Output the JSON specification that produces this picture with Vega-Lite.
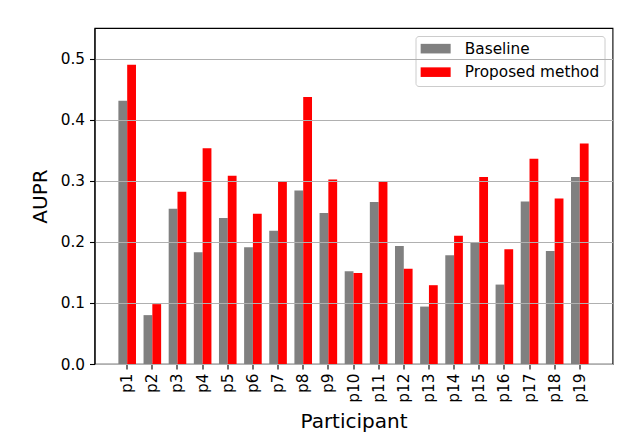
{
  "$schema": "https://vega.github.io/schema/vega-lite/v6.json",
  "width": 518,
  "height": 336,
  "autosize": {"type": "none"},
  "padding": {"left": 94.5, "top": 28, "right": 18.5, "bottom": 83},
  "background": "white",
  "config": {
    "font": "DejaVu Sans",
    "view": {"stroke": "black", "strokeWidth": 1.1},
    "axis": {
      "domainColor": "black",
      "domainWidth": 1.1,
      "tickColor": "black",
      "tickWidth": 1.1,
      "tickSize": 5,
      "labelFont": "DejaVu Sans",
      "labelFontSize": 15.3,
      "labelColor": "black",
      "titleFont": "DejaVu Sans",
      "titleFontSize": 20,
      "titleFontWeight": "normal",
      "titleColor": "black"
    }
  },
  "data": {
    "values": [
      {"participant": "p1", "method": "Baseline", "aupr": 0.431},
      {"participant": "p1", "method": "Proposed method", "aupr": 0.490},
      {"participant": "p2", "method": "Baseline", "aupr": 0.080},
      {"participant": "p2", "method": "Proposed method", "aupr": 0.098},
      {"participant": "p3", "method": "Baseline", "aupr": 0.254},
      {"participant": "p3", "method": "Proposed method", "aupr": 0.282},
      {"participant": "p4", "method": "Baseline", "aupr": 0.183},
      {"participant": "p4", "method": "Proposed method", "aupr": 0.353},
      {"participant": "p5", "method": "Baseline", "aupr": 0.239},
      {"participant": "p5", "method": "Proposed method", "aupr": 0.308},
      {"participant": "p6", "method": "Baseline", "aupr": 0.191},
      {"participant": "p6", "method": "Proposed method", "aupr": 0.246},
      {"participant": "p7", "method": "Baseline", "aupr": 0.218},
      {"participant": "p7", "method": "Proposed method", "aupr": 0.298},
      {"participant": "p8", "method": "Baseline", "aupr": 0.284},
      {"participant": "p8", "method": "Proposed method", "aupr": 0.437},
      {"participant": "p9", "method": "Baseline", "aupr": 0.247},
      {"participant": "p9", "method": "Proposed method", "aupr": 0.302},
      {"participant": "p10", "method": "Baseline", "aupr": 0.152},
      {"participant": "p10", "method": "Proposed method", "aupr": 0.149},
      {"participant": "p11", "method": "Baseline", "aupr": 0.265},
      {"participant": "p11", "method": "Proposed method", "aupr": 0.298},
      {"participant": "p12", "method": "Baseline", "aupr": 0.193},
      {"participant": "p12", "method": "Proposed method", "aupr": 0.156},
      {"participant": "p13", "method": "Baseline", "aupr": 0.094},
      {"participant": "p13", "method": "Proposed method", "aupr": 0.129},
      {"participant": "p14", "method": "Baseline", "aupr": 0.178},
      {"participant": "p14", "method": "Proposed method", "aupr": 0.210},
      {"participant": "p15", "method": "Baseline", "aupr": 0.199},
      {"participant": "p15", "method": "Proposed method", "aupr": 0.306},
      {"participant": "p16", "method": "Baseline", "aupr": 0.130},
      {"participant": "p16", "method": "Proposed method", "aupr": 0.188},
      {"participant": "p17", "method": "Baseline", "aupr": 0.266},
      {"participant": "p17", "method": "Proposed method", "aupr": 0.336},
      {"participant": "p18", "method": "Baseline", "aupr": 0.185},
      {"participant": "p18", "method": "Proposed method", "aupr": 0.271},
      {"participant": "p19", "method": "Baseline", "aupr": 0.306},
      {"participant": "p19", "method": "Proposed method", "aupr": 0.361}
    ]
  },
  "mark": {"type": "bar"},
  "encoding": {
    "x": {
      "field": "participant",
      "type": "nominal",
      "sort": ["p1","p2","p3","p4","p5","p6","p7","p8","p9","p10","p11","p12","p13","p14","p15","p16","p17","p18","p19"],
      "scale": {"paddingInner": 0.3, "paddingOuter": 0.95},
      "axis": {"title": "Participant", "labelAngle": -90, "labelPadding": 4, "titlePadding": 9, "grid": false}
    },
    "xOffset": {
      "field": "method",
      "type": "nominal",
      "sort": ["Baseline", "Proposed method"],
      "scale": {"paddingInner": 0, "paddingOuter": 0}
    },
    "y": {
      "field": "aupr",
      "type": "quantitative",
      "scale": {"domain": [0, 0.55], "nice": false, "zero": true},
      "axis": {
        "title": "AUPR",
        "values": [0, 0.1, 0.2, 0.3, 0.4, 0.5],
        "format": ".1f",
        "grid": true,
        "gridColor": "#b0b0b0",
        "gridWidth": 1.1,
        "zindex": 1,
        "labelPadding": 5,
        "titlePadding": 10
      }
    },
    "color": {
      "field": "method",
      "type": "nominal",
      "scale": {"domain": ["Baseline", "Proposed method"], "range": ["#808080", "#ff0000"]},
      "legend": {
        "title": null,
        "orient": "top-right",
        "offset": 8,
        "padding": 5,
        "strokeColor": "#cccccc",
        "fillColor": "rgba(255,255,255,0.8)",
        "cornerRadius": 3,
        "symbolType": "M-1,-0.64H3V0.64H-1Z",
        "symbolSize": 225,
        "symbolStrokeWidth": 0,
        "symbolOpacity": 1,
        "labelFont": "DejaVu Sans",
        "labelFontSize": 15.3,
        "labelColor": "black",
        "labelOffset": 29,
        "rowPadding": 7.5
      }
    }
  }
}
